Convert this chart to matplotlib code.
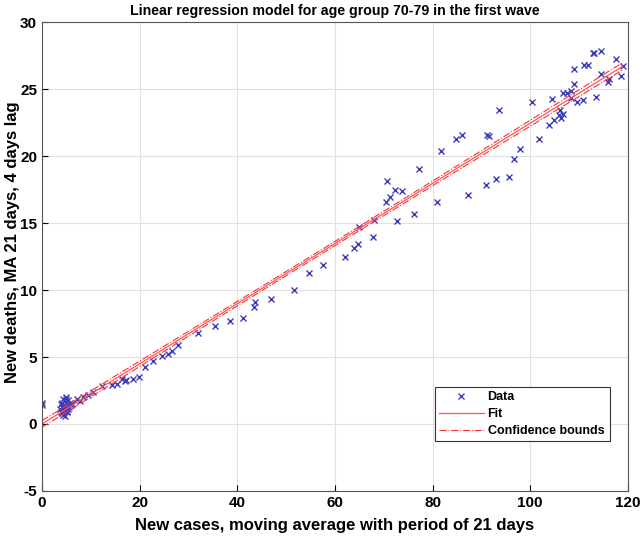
import numpy as np
from matplotlib import pyplot as plt

plt.rcParams['font.family'] = ['Liberation Sans', 'DejaVu Sans']
plt.rcParams['axes.unicode_minus'] = False

# data: new cases (MA 21) vs new deaths (MA 21, 4 days lag)
cases = [0.0, 0.1,
         3.6, 3.8, 4.0, 4.1, 4.2, 4.3, 4.4, 4.5, 4.6, 4.7, 4.8, 4.9, 5.0, 5.1,
         5.2, 5.3, 5.4, 5.6, 5.8, 6.0, 4.4, 4.9, 5.2, 3.9,
         6.1, 7.1, 7.8, 8.5, 9.5, 10.5,
         12.2, 14.3, 15.3, 16.3, 17.0, 17.3, 18.7, 19.9, 21.1, 22.8,
         24.5, 25.9, 26.6, 27.95, 31.9, 35.5, 38.5, 41.2, 43.6, 43.5,
         47.0, 51.7, 54.7, 57.6, 62.1, 64.0, 64.8, 65.0, 67.8, 68.0,
         70.4, 71.3, 70.6, 72.3, 73.7, 72.8, 76.2, 77.3, 80.9, 81.7,
         84.7, 86.1, 87.2, 91.0, 91.2, 91.6, 92.9, 93.6, 95.7, 96.7,
         98.0, 100.4, 101.8, 103.9, 104.4, 104.9, 106.1, 106.3, 106.8, 105.9,
         106.8, 107.5, 108.3, 108.4, 109.5, 110.9, 109.0, 109.0, 111.0, 111.8,
         112.8, 113.0, 114.5, 114.5, 113.4, 116.2, 116.0, 117.5, 118.9, 118.5]
deaths = [1.45, 1.6,
          1.1, 0.9, 1.3, 1.6, 0.8, 1.2, 1.9, 1.0, 1.4, 0.6, 1.7, 1.2, 2.0, 0.9,
          1.5, 1.1, 1.8, 1.3, 1.6, 1.4, 0.7, 1.9, 1.0, 1.5,
          1.52, 1.89, 1.69, 2.01, 2.14, 2.39,
          2.81, 2.93, 3.01, 3.38, 3.19, 3.31, 3.38, 3.49, 4.22, 4.68,
          5.05, 5.22, 5.43, 5.90, 6.79, 7.35, 7.66, 7.91, 9.10, 8.73,
          9.31, 9.98, 11.25, 11.84, 12.46, 13.16, 13.41, 14.70, 13.96, 15.20,
          16.57, 16.94, 18.13, 17.49, 17.37, 15.15, 15.69, 19.05, 16.60, 20.36,
          21.29, 21.59, 17.11, 17.86, 21.54, 21.47, 18.25, 23.43, 18.43, 19.81,
          20.54, 24.07, 21.29, 22.29, 24.25, 22.72, 23.41, 22.84, 23.16, 23.04,
          24.70, 24.74, 24.33, 24.89, 24.01, 24.16, 25.34, 26.46, 26.83, 26.79,
          27.71, 27.71, 27.84, 26.12, 24.40, 25.78, 25.52, 27.22, 26.72, 25.95]

# fitted model
slope = 0.2245
intercept = 0.0
t_val = 1.4  # scales the bounds to the width seen in the picture

x = np.array(cases)
y = np.array(deaths)
xf = np.linspace(x.min(), x.max(), 200)
yf = intercept + slope * xf

# confidence bounds of the fitted line
n = len(x)
resid = y - (intercept + slope * x)
s = np.sqrt(np.sum(resid ** 2) / (n - 2))
sxx = np.sum((x - x.mean()) ** 2)
hw = t_val * s * np.sqrt(1.0 / n + (xf - x.mean()) ** 2 / sxx)

fig = plt.figure(figsize=(6.42, 5.38), dpi=100)
ax = fig.add_axes([0.0654, 0.0874, 0.9126, 0.8716])

ax.plot(x, y, 'x', color='#3d3db8', markersize=5, markeredgewidth=1.0, label='Data')
ax.plot(xf, yf, '-', color='#ff5555', linewidth=0.9, label='Fit')
ax.plot(xf, yf + hw, '-.', color='#ff3030', linewidth=0.8, label='Confidence bounds')
ax.plot(xf, yf - hw, '-.', color='#ff3030', linewidth=0.8)

ax.set_xlim(0, 120)
ax.set_ylim(-5, 30)
ax.set_xticks(np.arange(0, 121, 20))
ax.set_yticks(np.arange(-5, 31, 5))
ax.grid(True, color='#e0e0e0', linewidth=0.8)
ax.set_axisbelow(True)
ax.tick_params(direction='in', length=4, labelsize=11, width=0.8)
for lab in ax.get_xticklabels() + ax.get_yticklabels():
    lab.set_fontweight('bold')
for sp in ax.spines.values():
    sp.set_color('#555555')
    sp.set_linewidth(0.8)

ax.set_title('Linear regression model for age group 70-79 in the first wave',
             fontsize=10.2, fontweight='bold', pad=5)
ax.set_xlabel('New cases, moving average with period of 21 days',
              fontsize=12, fontweight='bold', labelpad=6)
ax.set_ylabel('New deaths, MA 21 days, 4 days lag',
              fontsize=12, fontweight='bold')
ax.yaxis.set_label_coords(-0.037, 0.53)

leg = ax.legend(loc='lower left', bbox_to_anchor=(0.671, 0.107, 0.299, 0.117),
                mode='expand', borderaxespad=0, fontsize=9, fancybox=False,
                framealpha=1, edgecolor='#333333', borderpad=0.3,
                labelspacing=0.4, handlelength=3.6, handletextpad=0.3)
leg.get_frame().set_linewidth(0.8)
for t in leg.get_texts():
    t.set_fontweight('bold')

fig.savefig('out.png', dpi=100)
